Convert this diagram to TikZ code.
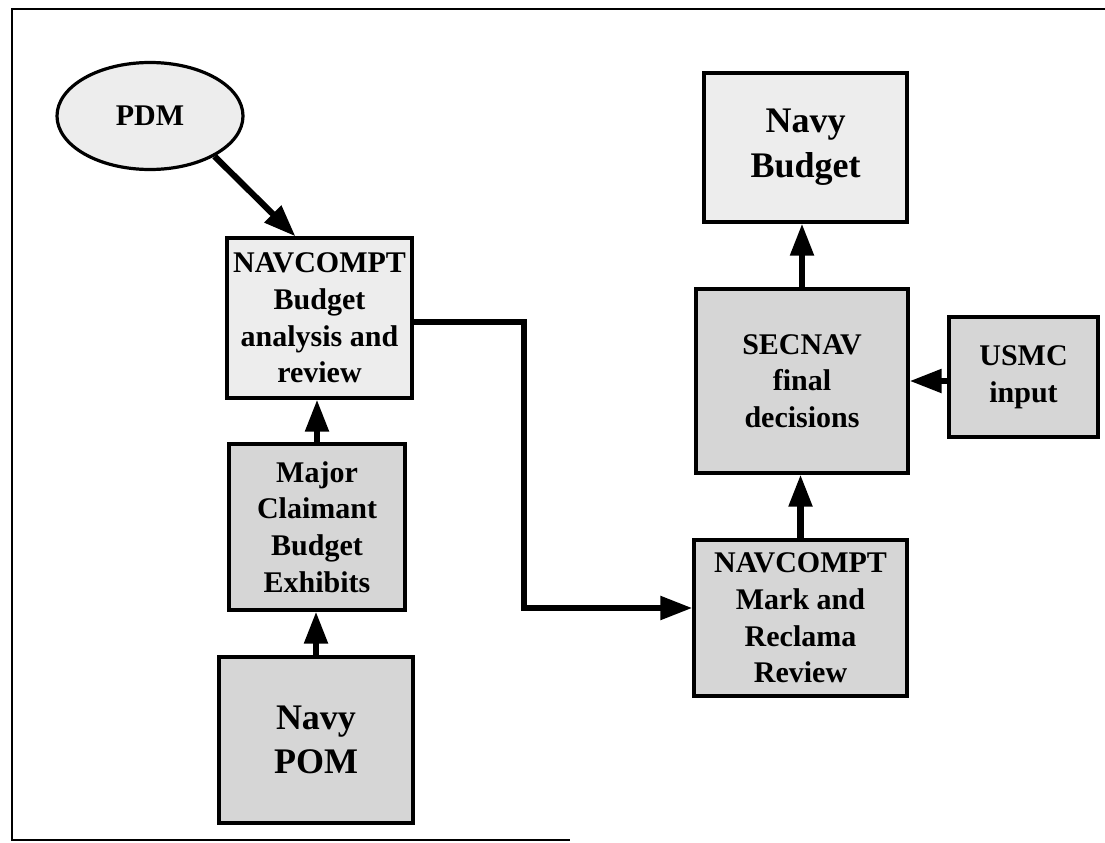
\documentclass[tikz,border=0pt]{standalone}
\usepackage{fontspec}
\setmainfont{Liberation Serif}
\usetikzlibrary{arrows.meta,shapes.geometric}
\definecolor{lightfill}{gray}{0.93}
\definecolor{darkfill}{gray}{0.84}
\tikzset{
  px/.style={x=0.75pt,y=-0.75pt},
  boxbase/.style={draw=black, line width=2.4pt, rectangle, inner sep=0pt, align=center,
    font=\bfseries\fontsize{22.5}{27.5}\selectfont},
  lightbox/.style={boxbase, fill=lightfill},
  darkbox/.style={boxbase, fill=darkfill},
  bigtext/.style={font=\bfseries\fontsize{27}{33.5}\selectfont},
  flow/.style={line width=4.6pt, -{Triangle[length=24pt,width=17pt]}},
  framestyle/.style={line width=1.6pt}
}
\begin{document}
\begin{tikzpicture}[px]
\useasboundingbox (0,0) rectangle (1105,842);
% frame
\coordinate (ftr) at (1105,9);
\coordinate (ftl) at (12,9);
\coordinate (fbl) at (12,840);
\coordinate (fbr) at (570,840);
\draw[framestyle] (ftr) -- (ftl) -- (fbl) -- (fbr);
% nodes
\node[boxbase, ellipse, fill=lightfill, minimum width=186*0.75pt, minimum height=107*0.75pt] (pdm) at (150,116) {PDM};
\node[lightbox, minimum width=185*0.75pt, minimum height=160*0.75pt] (nav) at (319.5,318) {NAVCOMPT\\Budget\\analysis and\\review};
\node[darkbox, minimum width=176*0.75pt, minimum height=166*0.75pt] (maj) at (317,527) {Major\\Claimant\\Budget\\Exhibits};
\node[darkbox, bigtext, minimum width=194*0.75pt, minimum height=166*0.75pt] (pom) at (316,740) {Navy\\POM};
\node[lightbox, bigtext, minimum width=203*0.75pt, minimum height=149*0.75pt] (bud) at (805.5,147.5) {Navy\\Budget};
\node[darkbox, minimum width=212*0.75pt, minimum height=184*0.75pt] (sec) at (802,381) {SECNAV\\final\\decisions};
\node[darkbox, minimum width=149*0.75pt, minimum height=120*0.75pt] (usmc) at (1023.5,377) {USMC\\input};
\node[darkbox, minimum width=213*0.75pt, minimum height=156*0.75pt] (mark) at (800.5,618) {NAVCOMPT\\Mark and\\Reclama\\Review};
% connectors
\coordinate (bend) at (524,608);
\draw[flow] (pdm.-32) -- ([xshift=-18pt]nav.north);
\draw[flow] (maj.north) -- (maj.north |- nav.south);
\draw[flow] (pom.north) -- (pom.north |- maj.south);
\draw[flow] ([yshift=-3pt]nav.east) -| (bend) -- (bend -| mark.west);
\draw[flow] (mark.north) -- (mark.north |- sec.south);
\draw[flow] (sec.north) -- (sec.north |- bud.south);
\draw[flow] ([yshift=-3pt]usmc.west) -- ([yshift=-3pt]usmc.west -| sec.east);
\end{tikzpicture}
\end{document}
